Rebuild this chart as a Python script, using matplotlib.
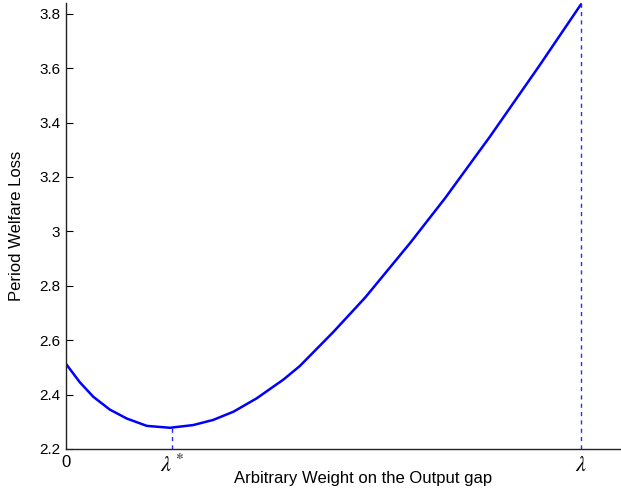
import matplotlib
matplotlib.use("Agg")
import matplotlib.pyplot as plt

# Data (x in units of lambda, lambda = 1)
weight = [0.0, 0.027, 0.053, 0.085, 0.118, 0.157, 0.202, 0.247, 0.286, 0.325,
          0.370, 0.422, 0.454, 0.519, 0.581, 0.668, 0.736, 0.823, 0.918, 1.0]
loss = [2.513, 2.445, 2.392, 2.345, 2.312, 2.285, 2.278, 2.288, 2.307, 2.337,
        2.386, 2.455, 2.505, 2.630, 2.757, 2.957, 3.122, 3.348, 3.606, 3.835]
lambda_star = 0.206
lambda_star_loss = 2.278
lambda_full = 1.0
lambda_full_loss = 3.835
x_tick_labels = ["0", r"$\lambda^*$", r"$\lambda$"]
y_ticks = [2.2, 2.4, 2.6, 2.8, 3.0, 3.2, 3.4, 3.6, 3.8]
y_tick_labels = ["2.2", "2.4", "2.6", "2.8", "3", "3.2", "3.4", "3.6", "3.8"]

plt.rcParams['font.family'] = ['Liberation Sans', 'DejaVu Sans']
plt.rcParams['mathtext.fontset'] = 'stix'

fig = plt.figure(figsize=(6.21, 4.93), dpi=100)
ax = fig.add_axes([66/621, 44/493, 555/621, 446/493])

ax.plot(weight, loss, color='#0000ff', lw=1.8, solid_capstyle='round',
        solid_joinstyle='round')
ax.plot([lambda_star, lambda_star], [2.2, lambda_star_loss], color='#2a2aff',
        lw=1.0, linestyle=(0, (3, 3)))
ax.plot([lambda_full, lambda_full], [2.2, lambda_full_loss], color='#2a2aff',
        lw=1.0, linestyle=(0, (3, 3)))

ax.set_xlim(0, 555/515)
ax.set_ylim(2.2, 2.2 + 446/272)

ax.spines['top'].set_visible(False)
ax.spines['right'].set_visible(False)
for s in ['left', 'bottom']:
    ax.spines[s].set_linewidth(1.0)
    ax.spines[s].set_color('#222222')

ax.set_yticks(y_ticks)
ax.set_yticklabels(y_tick_labels)
ax.tick_params(axis='y', direction='in', length=5, labelsize=11, pad=4)

ax.set_xticks([0, lambda_star, lambda_full])
ax.set_xticklabels(x_tick_labels)
ax.tick_params(axis='x', direction='in', length=0, pad=4)
labs = ax.get_xticklabels()
labs[0].set_fontsize(12)
labs[1].set_fontsize(16)
labs[2].set_fontsize(16)

ax.set_xlabel("Arbitrary Weight on the Output gap", fontsize=12)
ax.xaxis.set_label_coords((363-66)/555, -(471-449)/446)
ax.set_ylabel("Period Welfare Loss", fontsize=12)
ax.yaxis.set_label_coords(-(66-24)/555, 0.5)

fig.savefig("out.png", dpi=100)
